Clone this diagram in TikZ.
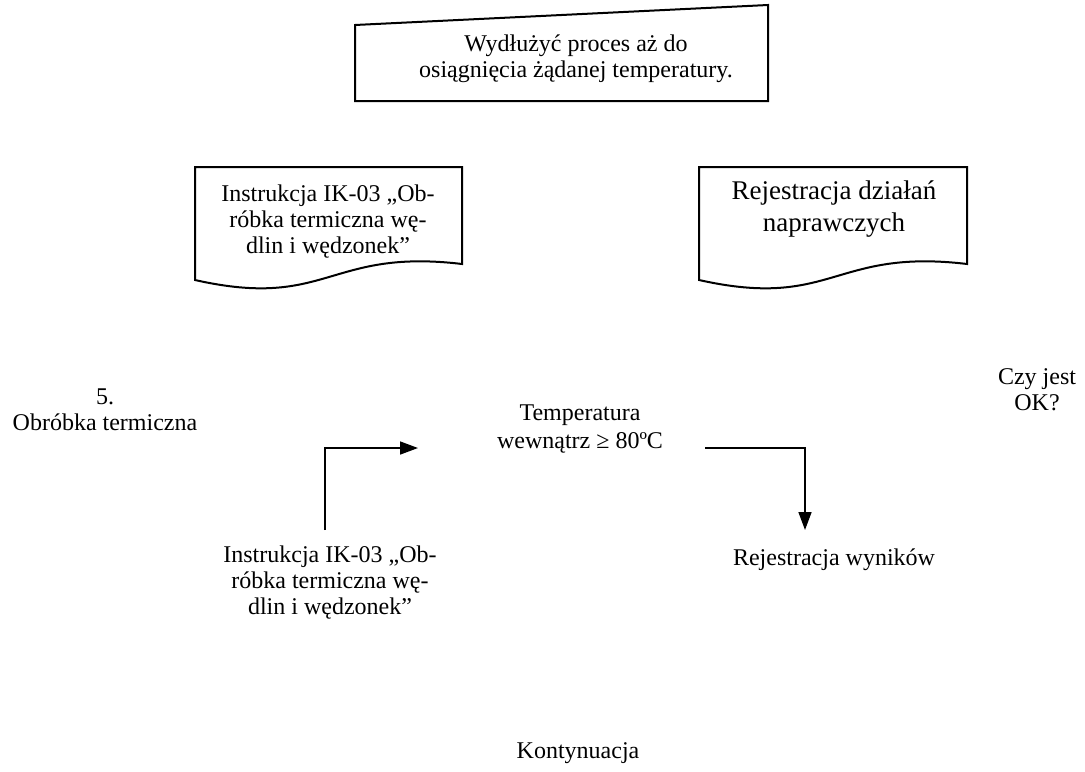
\documentclass[tikz,border=0pt]{standalone}
\usepackage{fontspec}
\setmainfont{Liberation Serif}
\usetikzlibrary{arrows.meta}
\begin{document}
\begin{tikzpicture}[x=0.5pt,y=-0.5pt,
  shapeline/.style={draw=black,line width=1pt,line join=miter},
  lbl/.style={align=center,font=\fontsize{12}{13}\selectfont,inner sep=0pt},
  biglbl/.style={align=center,font=\fontsize{13.5}{16}\selectfont,inner sep=0pt},
  conn/.style={draw=black,line width=0.8pt},
  arr/.style={-{Triangle[length=9pt,width=6.5pt]}}]
\useasboundingbox (0,0) rectangle (1085,771);
% manual input box
\draw[shapeline] (355,25) -- (768,5) -- (768,101) -- (355,101) -- cycle;
\node[lbl] (manual) at (576,59) {Wydłużyć proces aż do\\osiągnięcia żądanej temperatury.};
% document shapes
\draw[shapeline] (195,167) -- (462,167) -- (462,264) .. controls (328,248) and (328,310) .. (195,280) -- cycle;
\node[lbl] (docL) at (328,222) {Instrukcja IK-03 „Ob-\\róbka termiczna wę-\\dlin i wędzonek”};
\draw[shapeline] (699,167) -- (967,167) -- (967,264) .. controls (833,248) and (833,310) .. (699,280) -- cycle;
\node[biglbl] (docR) at (834,209) {Rejestracja działań\\naprawczych};
% labels
\node[lbl] (step) at (105,410) {5.\\Obróbka termiczna};
\node[lbl] (ok) at (1037,390) {Czy jest\\OK?};
\node[lbl,font=\fontsize{12}{14}\selectfont] (temp) at (580,429) {Temperatura\\wewnątrz ≥ 80ºC};
\node[lbl] (instr) at (330,583) {Instrukcja IK-03 „Ob-\\róbka termiczna wę-\\dlin i wędzonek”};
\node[lbl] (rej) at (834,560) {Rejestracja wyników};
\node[lbl] (kont) at (578,753) {Kontynuacja};
% connectors
\coordinate (inStart) at (325,530);
\coordinate (inTip) at (418,448);
\draw[conn,arr] (inStart) |- (inTip);
\coordinate (outStart) at (705,448);
\coordinate (outTip) at (805,530);
\draw[conn,arr] (outStart) -| (outTip);
\end{tikzpicture}
\end{document}
